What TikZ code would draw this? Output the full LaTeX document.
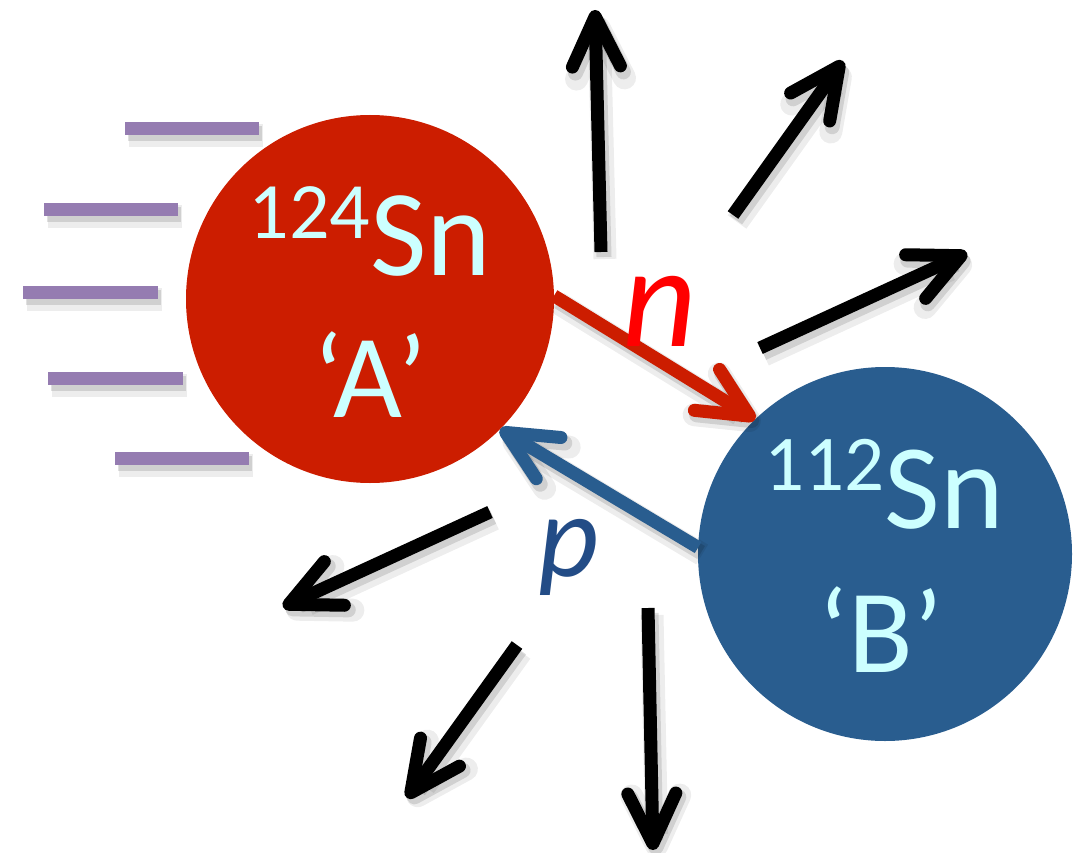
\documentclass[tikz,border=0pt]{standalone}
\usepackage{fontspec}
\setmainfont{Carlito}
\usetikzlibrary{arrows.meta}
\definecolor{redA}{HTML}{CC1D00}
\definecolor{blueB}{HTML}{295D8F}
\definecolor{txt}{HTML}{CCFFFF}
\definecolor{purp}{HTML}{957CB1}
\definecolor{pblue}{HTML}{234C86}
\definecolor{nred}{HTML}{FF0000}
\begin{document}
\begin{tikzpicture}[x=1pt,y=-1pt,
  nuc/.style={circle, inner sep=0pt, outer sep=0pt, minimum size=#1},
  softshadow/.style={
    preaction={draw=black, opacity=0.07, line width=#1+10pt, transform canvas={shift={(4pt,-7pt)}}},
    preaction={draw=black, opacity=0.12, line width=#1+2pt, transform canvas={shift={(3pt,-5pt)}}}},
  blk/.style={draw=black, line width=13pt, softshadow=13pt,
    -{Straight Barb[length=50pt, width=48pt, round]}},
  trail/.style={draw=purp, line width=13pt, softshadow=13pt},
  flow/.style={line width=13pt, softshadow=13pt,
    -{Straight Barb[length=50pt, width=48pt, round]}},
  nuctext/.style={anchor=base, text=txt, inner sep=0pt},
]
\fill[white] (0,0) rectangle (1091,853);
\useasboundingbox (0,0) rectangle (1091,853);

% trailing lines
\coordinate (t1a) at (125,128.5); \coordinate (t1b) at (259,128.5);
\coordinate (t2a) at (44,209.5);  \coordinate (t2b) at (178,209.5);
\coordinate (t3a) at (23,292.5);  \coordinate (t3b) at (158,292.5);
\coordinate (t4a) at (48,378.5);  \coordinate (t4b) at (183,378.5);
\coordinate (t5a) at (115,458.5); \coordinate (t5b) at (249,458.5);
\foreach \i in {1,...,5} { \draw[trail] (t\i a) -- (t\i b); }

% emitted particles
\coordinate (e1a) at (601,252); \coordinate (e1b) at (595,10);
\coordinate (e2a) at (733,215); \coordinate (e2b) at (843,61);
\coordinate (e3a) at (760,348); \coordinate (e3b) at (967,253);
\coordinate (e4a) at (490,512); \coordinate (e4b) at (283,607);
\coordinate (e5a) at (517,645); \coordinate (e5b) at (407,798);
\coordinate (e6a) at (648,608); \coordinate (e6b) at (653,850);
\foreach \i in {1,...,6} { \draw[blk] (e\i a) -- (e\i b); }

% nuclei
\node[nuc=368pt, fill=redA] (A) at (370,299) {};
\node[nuc=374pt, fill=blueB] (B) at (885,554) {};

\node[nuctext, font=\fontsize{123}{130}\selectfont] (tA1) at (370,275)
  {\raisebox{37pt}{\fontsize{80}{80}\selectfont 124}Sn};
\node[nuctext, font=\fontsize{119}{125}\selectfont] (tA2) at (370,417) {‘A’};
\node[nuctext, font=\fontsize{121}{130}\selectfont] (tB1) at (884,528)
  {\raisebox{38pt}{\fontsize{79}{80}\selectfont 112}Sn};
\node[nuctext, font=\fontsize{119}{125}\selectfont] (tB2) at (881,672) {‘B’};

% exchange arrows
\draw[flow, draw=redA] (A.1) -- (B.134);
\draw[flow, draw=blueB] (B.178) -- (A.-45);

\node[text=nred, font=\itshape\fontsize{145}{145}\selectfont, inner sep=0pt] (n) at (660,311) {n};
\node[text=pblue, font=\itshape\fontsize{118}{118}\selectfont, inner sep=0pt] (p) at (569,557) {p};
\end{tikzpicture}
\end{document}
